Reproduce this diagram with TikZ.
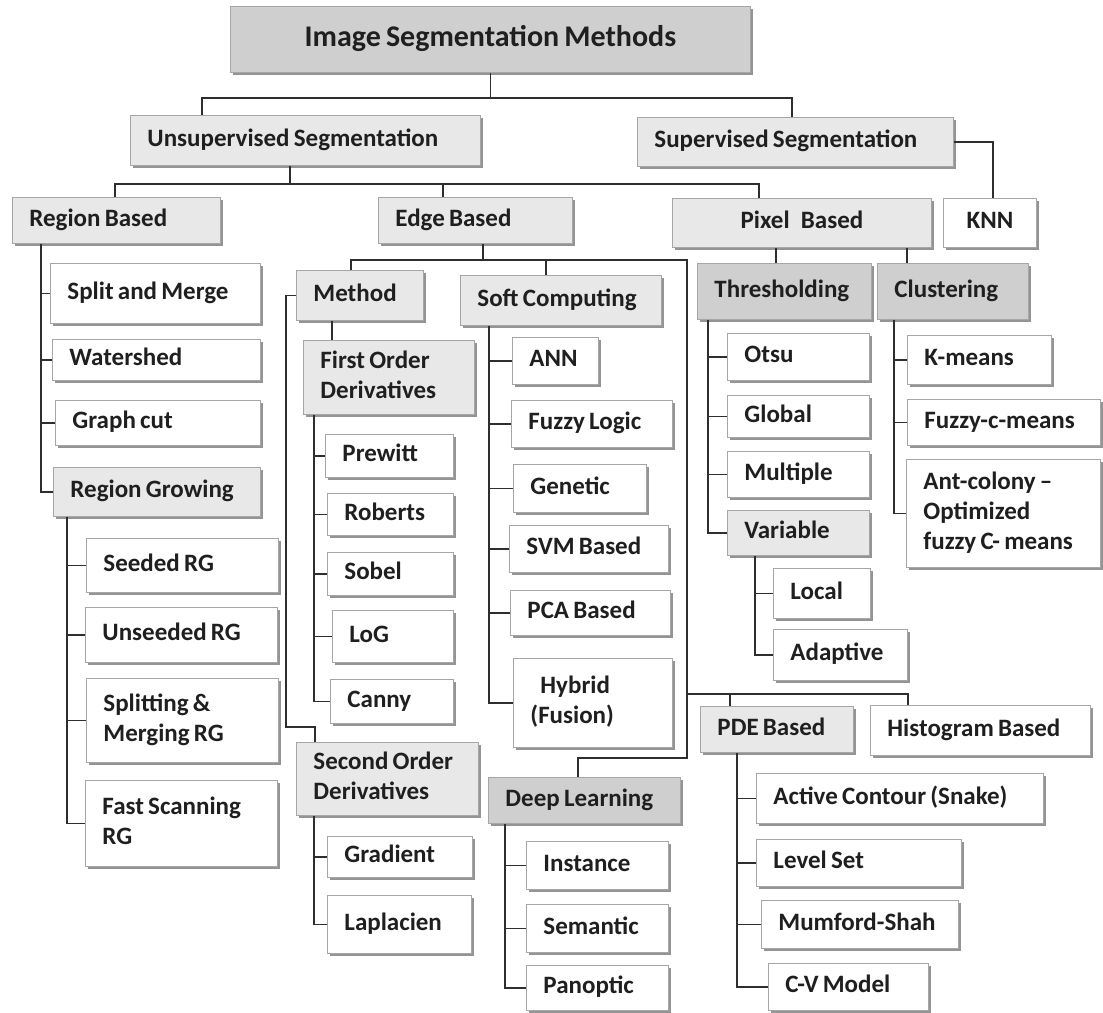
\documentclass[tikz,border=0pt]{standalone}
\usepackage{fontspec}
\setmainfont{Carlito}
\usetikzlibrary{shadows}

% \tbox{style}{name}{x1}{y1}{x2}{y2}{text}: a box placed by its corners
\newcommand\tbox[7]{%
  \pgfmathsetmacro\bxw{#5-#3}%
  \pgfmathsetmacro\bxt{#5-#3-34}%
  \pgfmathsetmacro\bxh{#6-#4}%
  \node[#1, minimum width=\bxw pt, minimum height=\bxh pt, text width=\bxt pt]
    (#2) at (#3,#4) {\spaceskip=0.17em\relax\begin{tabular}{@{}l@{}}#7\end{tabular}};}

\begin{document}
\begin{tikzpicture}[x=1pt,y=-1pt,
  box/.style={draw=black!35, line width=0.9pt, anchor=north west, align=left,
    inner xsep=17pt, inner ysep=2pt, text=black!88,
    font=\fontsize{25}{30}\selectfont\bfseries,
    drop shadow={shadow xshift=2.5pt, shadow yshift=-3pt, fill=black!42, opacity=1}},
  leaf/.style={box, fill=white},
  mid/.style={box, fill=black!9},
  dark/.style={box, fill=black!19},
  centred/.style={align=center},
  link/.style={draw=black!82, line width=1.8pt}]

\useasboundingbox (0,0) rectangle (1103,1012);

% ---- top levels
\tbox{dark, centred, font=\fontsize{30}{34}\selectfont\bfseries}{title}{230}{6}{750}{72}{Image Segmentation Methods}
\tbox{mid}{unsup}{130}{115}{480}{165}{Unsupervised Segmentation}
\tbox{mid}{sup}{637}{117}{953}{166}{Supervised Segmentation}
\tbox{mid}{rb}{12}{197}{220}{243}{Region Based}
\tbox{mid}{eb}{378}{197}{572}{243}{Edge Based}
\tbox{mid, centred}{pix}{672}{198}{931}{247}{Pixel\hspace{0.45em}Based}
\tbox{leaf, centred}{knn}{943}{198}{1036}{247}{KNN}

% ---- region based
\tbox{leaf}{split}{50}{263}{260}{323}{Split and Merge}
\tbox{leaf}{water}{52}{339}{260}{380}{Watershed}
\tbox{leaf}{graph}{55}{400}{260}{445}{Graph cut}
\tbox{mid}{rg}{53}{467}{260}{516}{Region Growing}
\tbox{leaf}{seeded}{86}{538}{278}{592}{Seeded RG}
\tbox{leaf}{unseeded}{85}{607}{277}{662}{Unseeded RG}
\tbox{leaf}{splitrg}{86}{678}{278}{762}{Splitting \&\\Merging RG}
\tbox{leaf}{fastrg}{85}{780}{277}{866}{Fast Scanning\\RG}

% ---- edge based: derivative methods
\tbox{mid}{method}{296}{270}{423}{320}{Method}
\tbox{mid}{fod}{303}{340}{474}{414}{First Order\\Derivatives}
\tbox{leaf}{prewitt}{325}{434}{453}{477}{Prewitt}
\tbox{leaf}{roberts}{327}{493}{453}{535}{Roberts}
\tbox{leaf}{sobel}{327}{552}{453}{595}{Sobel}
\tbox{leaf}{log}{332}{610}{453}{662}{LoG}
\tbox{leaf}{canny}{330}{679}{453}{723}{Canny}
\tbox{mid}{sod}{296}{742}{478}{815}{Second Order\\Derivatives}
\tbox{leaf}{gradient}{327}{836}{472}{877}{Gradient}
\tbox{leaf}{laplace}{327}{895}{471}{953}{Laplacien}

% ---- edge based: soft computing
\tbox{mid}{sc}{460}{275}{661}{325}{Soft Computing}
\tbox{leaf}{ann}{512}{337}{598}{384}{ANN}
\tbox{leaf}{fuzzy}{511}{400}{672}{447}{Fuzzy Logic}
\tbox{leaf}{genetic}{513}{464}{646}{512}{Genetic}
\tbox{leaf}{svm}{509}{525}{668}{572}{SVM Based}
\tbox{leaf}{pca}{510}{590}{670}{635}{PCA Based}
\tbox{leaf}{hybrid}{513}{658}{672}{747}{\hspace*{10pt}Hybrid\\(Fusion)}

% ---- edge based: deep learning
\tbox{dark}{dl}{488}{777}{680}{823}{Deep Learning}
\tbox{leaf}{instance}{526}{841}{668}{889}{Instance}
\tbox{leaf}{semantic}{526}{904}{668}{952}{Semantic}
\tbox{leaf}{panoptic}{526}{965}{668}{1010}{Panoptic}

% ---- edge based: PDE and histogram
\tbox{mid}{pde}{700}{706}{853}{752}{PDE Based}
\tbox{leaf}{hist}{870}{705}{1090}{755}{Histogram Based}
\tbox{leaf}{snake}{756}{773}{1043}{823}{Active Contour (Snake)}
\tbox{leaf}{levelset}{756}{839}{961}{886}{Level Set}
\tbox{leaf}{mumford}{761}{900}{958}{948}{Mumford-Shah}
\tbox{leaf}{cv}{768}{963}{928}{1010}{C-V Model}

% ---- pixel based
\tbox{dark}{thr}{697}{263}{871}{319}{Thresholding}
\tbox{dark}{clu}{877}{263}{1028}{319}{Clustering}
\tbox{leaf}{otsu}{727}{333}{869}{380}{Otsu}
\tbox{leaf}{global}{727}{395}{869}{437}{Global}
\tbox{leaf}{multiple}{727}{451}{869}{497}{Multiple}
\tbox{mid}{variable}{727}{510}{869}{555}{Variable}
\tbox{leaf}{local}{773}{568}{870}{618}{Local}
\tbox{leaf}{adaptive}{773}{629}{907}{680}{Adaptive}
\tbox{leaf}{kmeans}{907}{335}{1051}{384}{K-means}
\tbox{leaf}{fcm}{907}{399}{1100}{445}{Fuzzy-c-means}
\tbox{leaf}{ant}{906}{459}{1100}{567}{Ant-colony --\\Optimized\\fuzzy C- means}

% ---- connectors
\coordinate (t1) at (202,98);  \coordinate (t2) at (792,98);
\draw[link] (title.south) -- (title.south |- t1);
\draw[link] (unsup.north -| t1) -- (t1) -- (t2) -- (sup.north -| t2);
\draw[link] (sup.east) -| ([xshift=50pt]knn.north west);

\coordinate (u1) at (115,184); \coordinate (u2) at (759,184);
\draw[link] ([xshift=160pt]unsup.south west) -- ([xshift=160pt]unsup.south west |- u1);
\draw[link] (rb.north -| u1) -- (u1) -- (u2) -- (pix.north -| u2);
\draw[link] ([xshift=65pt]eb.north west) -- ([xshift=65pt]eb.north west |- u1);

\coordinate (e1) at (351,260); \coordinate (e2) at (687,260);
\coordinate (e3) at (687,758); \coordinate (e4) at (578,758);
\coordinate (e5) at (687,694); \coordinate (e6) at (908,694);
\draw[link] ([xshift=105pt]eb.south west) -- ([xshift=105pt]eb.south west |- e1);
\draw[link] (method.north -| e1) -- (e1) -- (e2) -- (e3) -- (e4) -- (dl.north -| e4);
\draw[link] ([xshift=86pt]sc.north west) -- ([xshift=86pt]sc.north west |- e1);
\draw[link] (e5) -- (e6) -- (hist.north -| e6);
\draw[link] ([xshift=30pt]pde.north west) -- ([xshift=30pt]pde.north west |- e5);

\coordinate (m1) at (286,727);
\draw[link] (method.west) -| (m1) -| ([xshift=19pt]sod.north west);
\draw[link] ([xshift=36pt]method.south west) -- ([xshift=29pt]fod.north west);

\draw[link] ([xshift=104pt]pix.south west) -- ([xshift=79pt]thr.north west);
\draw[link] ([xshift=235pt]pix.south west) -- ([xshift=30pt]clu.north west);

% child ticks along each branch
\foreach \c in {split,water,graph,rg}
  \draw[link] ([xshift=29pt]rb.south west) |- (\c.west);
\foreach \c in {seeded,unseeded,splitrg,fastrg}
  \draw[link] ([xshift=14pt]rg.south west) |- (\c.west);
\foreach \c in {prewitt,roberts,sobel,log,canny}
  \draw[link] ([xshift=11pt]fod.south west) |- (\c.west);
\foreach \c in {gradient,laplace}
  \draw[link] ([xshift=18pt]sod.south west) |- (\c.west);
\foreach \c in {ann,fuzzy,genetic,svm,pca,hybrid}
  \draw[link] ([xshift=29pt]sc.south west) |- (\c.west);
\foreach \c in {instance,semantic,panoptic}
  \draw[link] ([xshift=17pt]dl.south west) |- (\c.west);
\foreach \c in {snake,levelset,mumford,cv}
  \draw[link] ([xshift=37pt]pde.south west) |- (\c.west);
\foreach \c in {otsu,global,multiple,variable}
  \draw[link] ([xshift=11pt]thr.south west) |- (\c.west);
\foreach \c in {local,adaptive}
  \draw[link] ([xshift=28pt]variable.south west) |- (\c.west);
\foreach \c in {kmeans,fcm,ant}
  \draw[link] ([xshift=17pt]clu.south west) |- (\c.west);

\end{tikzpicture}
\end{document}
